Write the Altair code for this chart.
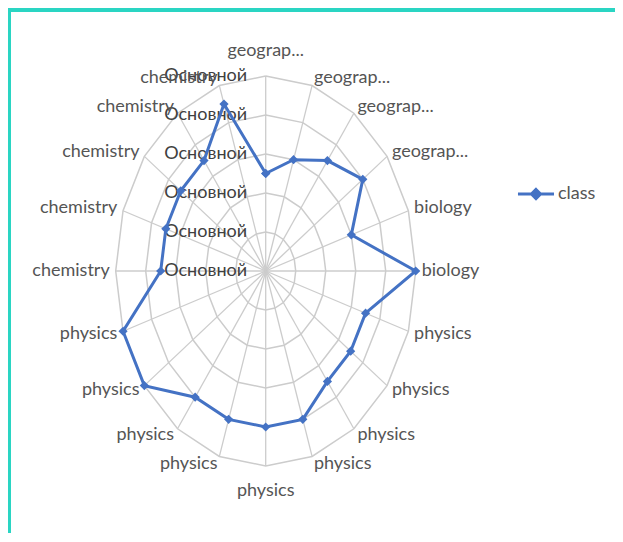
import altair as alt
import pandas as pd

# ---- data ----
categories = ["geograp...", "geograp...", "geograp...", "geograp...",
              "biology", "biology",
              "physics", "physics", "physics", "physics", "physics",
              "physics", "physics", "physics", "physics",
              "chemistry", "chemistry", "chemistry", "chemistry", "chemistry"]
values = [2.5, 3, 3.5, 4, 3, 5,
          3.5, 3.5, 3.5, 4, 4, 4, 4, 5, 5,
          3.5, 3.5, 3.5, 3.5, 4.5]
series_name = "class"
ring_levels = [1, 2, 3, 4, 5]
axis_levels = [0, 1, 2, 3, 4, 5]
axis_labels = ["Основной", "Основной", "Основной", "Основной", "Основной", "Основной"]

N = len(categories)
RMAX = max(ring_levels)
FONT = "Lato"
BLUE = "#4472C4"

# ---- tables built from the arrays ----
series_df = pd.DataFrame({
    "idx": list(range(N + 1)),
    "value": values + [values[0]],
    "series": [series_name] * (N + 1),
})
rings_df = pd.DataFrame([
    {"ring": lv, "idx": i, "value": lv} for lv in ring_levels for i in range(N + 1)
])
spokes_df = pd.DataFrame({"idx": list(range(N)), "value": [RMAX] * N})
labels_df = pd.DataFrame({"idx": list(range(N)), "category": categories})
axis_df = pd.DataFrame({"level": axis_levels, "label": axis_labels})

ang = f"datum.idx * 2 * PI / {N}"

xs = alt.Scale(domain=[-8.49, 11.643], nice=False, zero=False)
ys = alt.Scale(domain=[-6.718, 6.641], nice=False, zero=False)
X = lambda f: alt.X(f, type="quantitative", scale=xs, axis=None)
Y = lambda f: alt.Y(f, type="quantitative", scale=ys, axis=None)

GRID = "#cccccc"

rings = alt.Chart(rings_df).transform_calculate(
    px=f"datum.value * sin({ang})", py=f"datum.value * cos({ang})"
).mark_line(color=GRID, strokeWidth=1.5).encode(
    x=X("px"), y=Y("py"), detail="ring:N", order="idx:Q"
)

spokes = alt.Chart(spokes_df).transform_calculate(
    px=f"datum.value * sin({ang})", py=f"datum.value * cos({ang})", zx="0", zy="0"
).mark_rule(color=GRID, strokeWidth=1.3).encode(
    x=X("zx"), y=Y("zy"), x2="px:Q", y2="py:Q"
)

labels = alt.Chart(labels_df).transform_calculate(
    lx=f"5.2 * sin({ang})",
    ly=f"((datum.idx == 0 || datum.idx == {N // 2}) ? 5.65 : 5.2) * cos({ang})",
).mark_text(
    font=FONT, fontSize=18, color="#555555", baseline="middle",
    align=alt.expr(f"(datum.idx == 0 || datum.idx == {N // 2}) ? 'center' : (datum.idx < {N // 2} ? 'left' : 'right')"),
).encode(x=X("lx"), y=Y("ly"), text="category:N")

axis_text = alt.Chart(axis_df).transform_calculate(
    ax="-0.62", ay="datum.level"
).mark_text(
    font=FONT, fontSize=18, color="#404040", align="right", baseline="middle"
).encode(x=X("ax"), y=Y("ay"), text="label:N")

line = alt.Chart(series_df).transform_calculate(
    px=f"datum.value * sin({ang})", py=f"datum.value * cos({ang})"
).mark_line(
    strokeWidth=3,
    point=alt.OverlayMarkDef(shape="diamond", filled=True, size=85, color=BLUE),
).encode(
    x=X("px"), y=Y("py"), order="idx:Q",
    color=alt.Color(
        "series:N",
        scale=alt.Scale(domain=[series_name], range=[BLUE]),
        legend=alt.Legend(
            title=None, orient="none", legendX=505, legendY=162,
            symbolType="M-1,0H1M0,-0.25L0.25,0L0,0.25L-0.25,0Z",
            symbolSize=1300, symbolStrokeWidth=3,
            symbolFillColor=BLUE, symbolStrokeColor=BLUE,
            labelFont=FONT, labelFontSize=18, labelColor="#555555",
            labelOffset=2,
        ),
    ),
)

chart = alt.layer(rings, spokes, axis_text, labels, line).properties(
    width=607, height=525,
    autosize=alt.AutoSizeParams(type="fit", contains="padding"),
    padding={"left": 3, "top": 4, "right": 0, "bottom": 0},
    background="#2ad5c3",
).configure_view(fill="white", stroke="white", strokeWidth=0)

chart.save("out.html", embed_options={"renderer": "svg", "actions": False})
